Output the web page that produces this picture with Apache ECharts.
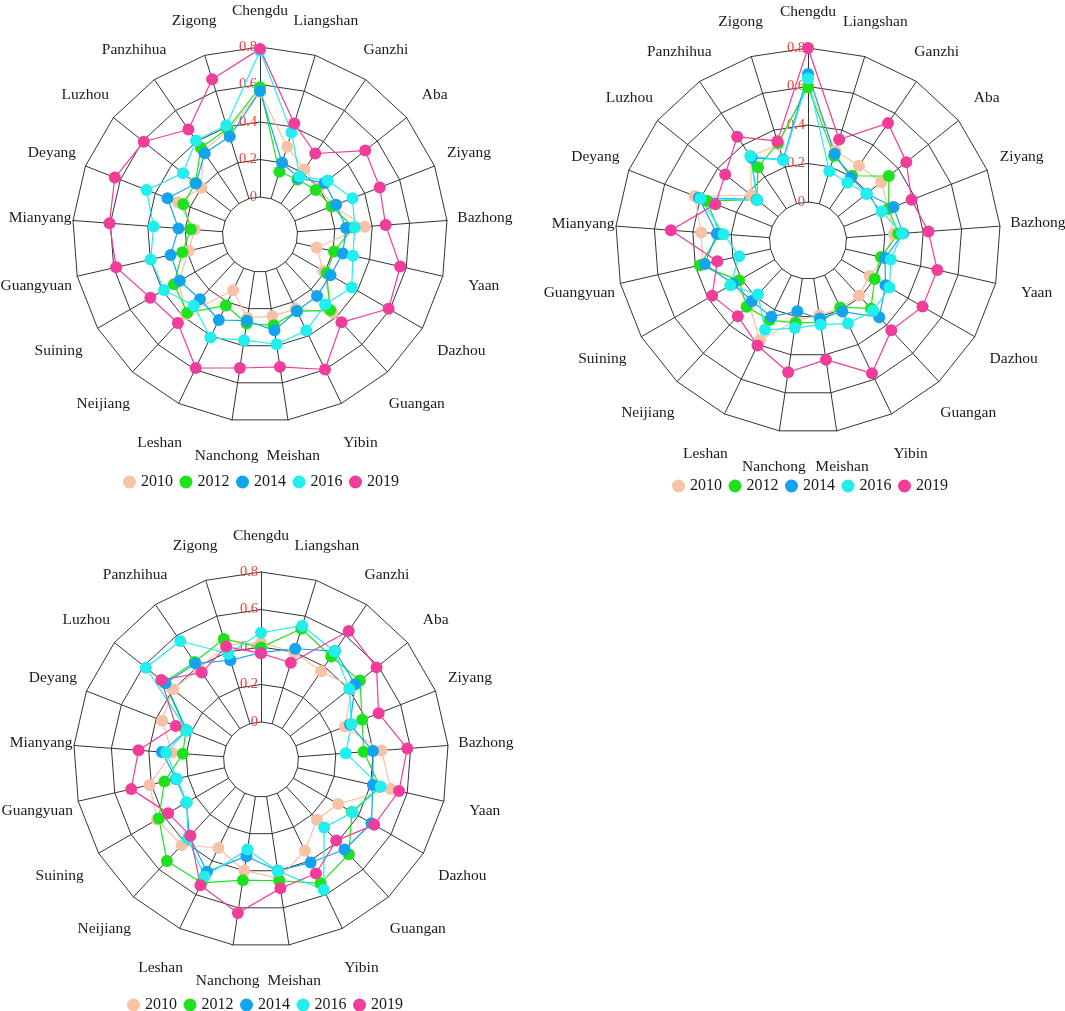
<!DOCTYPE html>
<html>
<head>
<meta charset="utf-8">
<script src="https://cdn.jsdelivr.net/npm/echarts@6/dist/echarts.min.js"></script>
<style>
  html, body { margin: 0; padding: 0; background: #fff; }
  #main { width: 1065px; height: 1011px; }
</style>
</head>
<body>
<div id="main"></div>
<script>
// cities, clockwise from the top
var cities = ['Chengdu', 'Liangshan', 'Ganzhi', 'Aba', 'Ziyang', 'Bazhong', 'Yaan', 'Dazhou', 'Guangan', 'Yibin',
  'Meishan', 'Nanchong', 'Leshan', 'Neijiang', 'Suining', 'Guangyuan', 'Mianyang', 'Deyang', 'Luzhou', 'Panzhihua', 'Zigong'];
var years = ['2010', '2012', '2014', '2016', '2019'];
var colors = ['#f7c2a5', '#1fe21f', '#14a4ee', '#22eeee', '#f03d9a'];

// chart 1 (top left)
var c1_2010 = [0.56, 0.29, 0.22, 0.20, 0.22, 0.36, 0.11, 0.19, 0.37, 0.24, 0.24, 0.25, 0.13, 0.38, 0.30, 0.19, 0.15, 0.27, 0.20, 0.34, 0.38];
var c1_2012 = [0.585, 0.15, 0.155, 0.18, 0.21, 0.30, 0.205, 0.21, 0.35, 0.255, 0.29, 0.28, 0.22, 0.37, 0.33, 0.225, 0.17, 0.24, 0.24, 0.36, 0.39];
var c1_2014 = [0.565, 0.20, 0.165, 0.24, 0.236, 0.26, 0.253, 0.234, 0.247, 0.253, 0.317, 0.265, 0.306, 0.271, 0.294, 0.289, 0.236, 0.33, 0.237, 0.324, 0.347];
var c1_2016 = [0.78, 0.37, 0.175, 0.262, 0.33, 0.307, 0.308, 0.365, 0.31, 0.369, 0.392, 0.37, 0.41, 0.319, 0.391, 0.398, 0.369, 0.45, 0.325, 0.406, 0.41];
var c1_2019 = [0.79, 0.42, 0.323, 0.518, 0.486, 0.472, 0.567, 0.592, 0.439, 0.599, 0.514, 0.52, 0.59, 0.444, 0.475, 0.587, 0.605, 0.632, 0.593, 0.478, 0.666];

// chart 2 (top right)
var c2_2010 = [0.613, 0.285, 0.27, 0.286, 0.25, 0.247, 0.202, 0.17, 0.189, 0.19, 0.193, 0.22, 0.375, 0.25, 0.25, 0.36, 0.357, 0.433, 0.176, 0.33, 0.32];
var c2_2012 = [0.596, 0.26, 0.207, 0.337, 0.25, 0.27, 0.188, 0.20, 0.281, 0.186, 0.23, 0.233, 0.259, 0.269, 0.214, 0.376, 0.26, 0.362, 0.14, 0.261, 0.33];
var c2_2014 = [0.665, 0.271, 0.195, 0.19, 0.277, 0.295, 0.21, 0.265, 0.344, 0.21, 0.21, 0.172, 0.239, 0.229, 0.25, 0.35, 0.275, 0.409, 0.14, 0.32, 0.24];
var c2_2016 = [0.642, 0.176, 0.163, 0.189, 0.211, 0.29, 0.241, 0.289, 0.298, 0.278, 0.242, 0.26, 0.315, 0.182, 0.266, 0.167, 0.24, 0.40, 0.137, 0.332, 0.236];
var c2_2019 = [0.80, 0.349, 0.538, 0.453, 0.378, 0.427, 0.489, 0.487, 0.436, 0.566, 0.426, 0.492, 0.405, 0.336, 0.375, 0.283, 0.514, 0.317, 0.35, 0.453, 0.34];

// chart 3 (bottom left)
var c3_2010 = [0.423, 0.40, 0.369, 0.42, 0.281, 0.444, 0.51, 0.275, 0.239, 0.34, 0.44, 0.399, 0.324, 0.423, 0.44, 0.41, 0.276, 0.367, 0.40, 0.387, 0.44];
var c3_2012 = [0.398, 0.53, 0.465, 0.475, 0.38, 0.349, 0.45, 0.36, 0.489, 0.533, 0.454, 0.451, 0.53, 0.538, 0.429, 0.328, 0.218, 0.23, 0.46, 0.429, 0.473];
var c3_2014 = [0.37, 0.418, 0.50, 0.443, 0.31, 0.399, 0.412, 0.48, 0.455, 0.41, 0.40, 0.322, 0.465, 0.36, 0.26, 0.265, 0.33, 0.225, 0.452, 0.42, 0.354];
var c3_2016 = [0.476, 0.547, 0.497, 0.402, 0.319, 0.253, 0.455, 0.364, 0.295, 0.571, 0.402, 0.286, 0.493, 0.375, 0.257, 0.26, 0.307, 0.225, 0.585, 0.565, 0.39];
var c3_2019 = [0.366, 0.34, 0.63, 0.588, 0.474, 0.582, 0.555, 0.497, 0.39, 0.475, 0.495, 0.628, 0.545, 0.354, 0.372, 0.51, 0.455, 0.288, 0.48, 0.361, 0.43];

var charts = [
  [c1_2010, c1_2012, c1_2014, c1_2016, c1_2019],
  [c2_2010, c2_2012, c2_2014, c2_2016, c2_2019],
  [c3_2010, c3_2012, c3_2014, c3_2016, c3_2019]
];

// gap between polygon and city name, lower names sit a bit further out
var nameGaps = [36, 36, 36, 36, 37, 38, 42, 45, 43, 44, 36, 36, 44, 43, 45, 42, 33, 36, 36, 36, 36];

// echarts lays indicators out counter-clockwise, so flip everything after the first
function ccw(arr) { return [arr[0]].concat(arr.slice(1).reverse()); }

var font = 'Liberation Serif, Times New Roman, serif';

function makeRadar(cx, cy, r0, r) {
  var gaps = ccw(nameGaps);
  return {
    center: [cx, cy],
    radius: [r0, r],
    shape: 'polygon',
    startAngle: 90,
    splitNumber: 4,
    nameGap: 36,
    indicator: ccw(cities).map(function (c, i) {
      var ind = { name: c, min: 0, max: 0.8, nameGap: gaps[i] };
      if (i === 0) ind.axisLabel = { show: true };
      return ind;
    }),
    axisName: { color: '#1a1a1a', fontFamily: font, fontSize: 15.5, align: 'center', verticalAlign: 'middle' },
    axisLine: { show: true, lineStyle: { color: '#333', width: 1 } },
    splitLine: { lineStyle: { color: '#333', width: 1 } },
    splitArea: { show: false },
    axisTick: { show: false },
    axisLabel: { show: false, color: '#f0403c', fontFamily: font, fontSize: 14.5, margin: 3,
      formatter: function (v) { return String(+v.toFixed(1)); } }
  };
}

function makeLegend(left, top) {
  return {
    data: years, left: left, top: top, padding: 0,
    icon: 'circle', itemWidth: 13, itemHeight: 13, itemGap: 6.5,
    textStyle: { color: '#1a1a1a', fontFamily: font, fontSize: 16 },
    selectedMode: false
  };
}

var series = [];
charts.forEach(function (sets, k) {
  sets.forEach(function (vals, j) {
    series.push({
      type: 'radar',
      radarIndex: k,
      name: years[j],
      symbol: 'circle',
      symbolSize: 12,
      lineStyle: { color: colors[j], width: 1.2 },
      itemStyle: { color: colors[j] },
      emphasis: { disabled: true },
      data: [{ name: years[j], value: ccw(vals) }]
    });
  });
});

var myChart = echarts.init(document.getElementById('main'));
myChart.setOption({
  animation: false,
  color: colors,
  radar: [
    makeRadar(260, 234.5, 37.5, 187.5),
    makeRadar(808, 240.5, 38.5, 192.5),
    makeRadar(261, 759.5, 37.5, 187.5)
  ],
  legend: [
    makeLegend(123, 474),
    makeLegend(672, 478),
    makeLegend(127, 997)
  ],
  series: series
});
</script>
</body>
</html>
